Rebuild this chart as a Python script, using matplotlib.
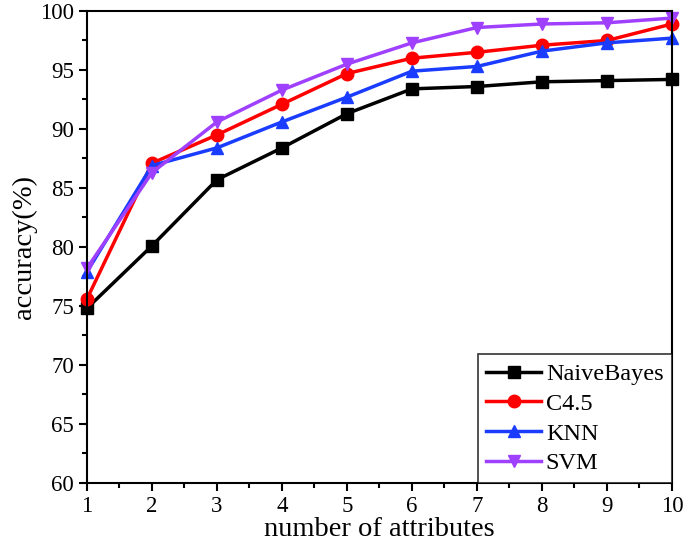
import matplotlib
matplotlib.use("Agg")
from matplotlib import pyplot as plt
from matplotlib.ticker import MultipleLocator

plt.rcParams['font.family'] = ['Liberation Serif', 'DejaVu Serif']

# 数据
attributes = [1, 2, 3, 4, 5, 6, 7, 8, 9, 10]
naive_bayes = [74.8, 80.1, 85.7, 88.4, 91.3, 93.4, 93.6, 94.0, 94.1, 94.2]
c45 = [75.6, 87.1, 89.5, 92.1, 94.7, 96.0, 96.5, 97.1, 97.5, 98.9]
knn = [77.9, 86.9, 88.4, 90.6, 92.7, 94.9, 95.3, 96.6, 97.3, 97.7]
svm = [78.2, 86.3, 90.6, 93.3, 95.5, 97.3, 98.6, 98.9, 99.0, 99.4]

fig = plt.figure(figsize=(6.85, 5.5), dpi=100)
ax = fig.add_axes([0.127, 0.122, 0.854, 0.858])

lw = 2.5
ms = 8
ax.plot(attributes, naive_bayes, color='black', marker='s', lw=lw, ms=ms, label='NaiveBayes', clip_on=False)
ax.plot(attributes, c45, color='#ff0000', marker='o', lw=lw, ms=ms + 1, label='C4.5', clip_on=False)
ax.plot(attributes, knn, color='#1a3cff', marker='^', lw=lw, ms=ms + 1, label='KNN', clip_on=False)
ax.plot(attributes, svm, color='#a040ff', marker='v', lw=lw, ms=ms + 1, label='SVM', clip_on=False)

ax.set_xlim(1, 10)
ax.set_ylim(60, 100)
ax.xaxis.set_major_locator(MultipleLocator(1))
ax.xaxis.set_minor_locator(MultipleLocator(0.5))
ax.yaxis.set_major_locator(MultipleLocator(5))
ax.yaxis.set_minor_locator(MultipleLocator(2.5))
ax.tick_params(which='major', direction='out', length=6, width=1.5, labelsize=16.5)
ax.tick_params(which='minor', direction='out', length=3.5, width=1.5)
for s in ax.spines.values():
    s.set_linewidth(1.5)

ax.set_xlabel('number of attributes', fontsize=20.5, labelpad=0)
ax.set_ylabel('accuracy(%)', fontsize=20.5, labelpad=2)

leg = ax.legend(loc='lower right', fontsize=17.5, frameon=True, fancybox=False,
                edgecolor='black', borderaxespad=0, handlelength=2.25,
                handletextpad=0.2, labelspacing=0.32, borderpad=0.35)
leg.get_frame().set_linewidth(1.2)

fig.savefig('out.png', dpi=100)
